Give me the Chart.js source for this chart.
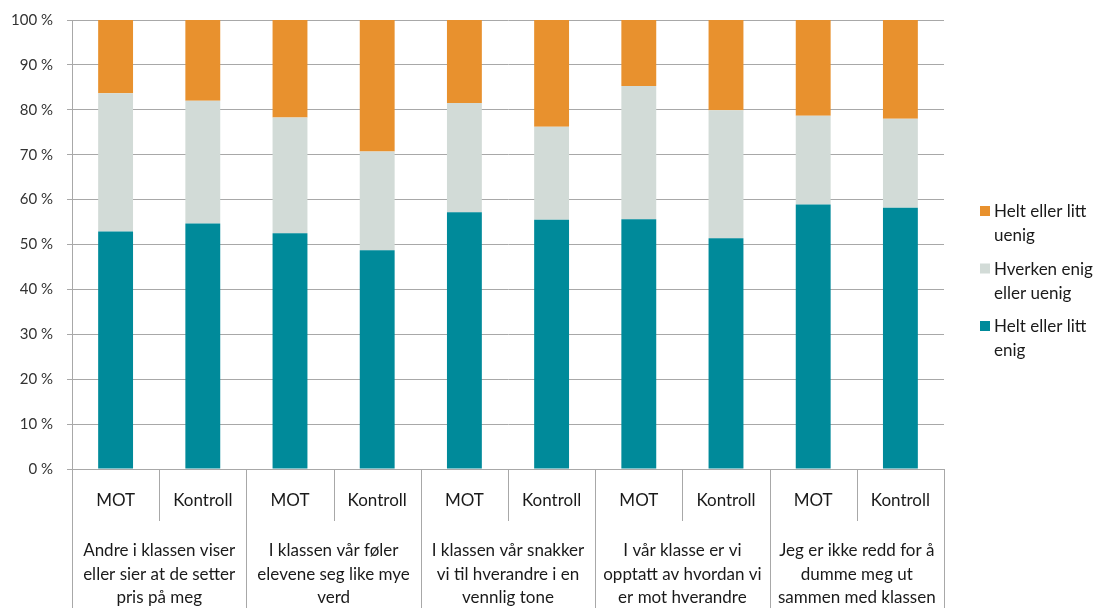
<!DOCTYPE html>
<html>
<head>
<meta charset="utf-8">
<script src="https://cdn.jsdelivr.net/npm/chart.js@4"></script>
<style>
  html, body { margin: 0; padding: 0; background: #fff; }
  #wrap { width: 1097px; height: 608px; }
</style>
</head>
<body>
<div id="wrap"><canvas id="chart" width="1097" height="608"></canvas></div>
<script>
// sub categories (one bar each)
const subLabels = ['MOT', 'Kontroll', 'MOT', 'Kontroll', 'MOT', 'Kontroll', 'MOT', 'Kontroll', 'MOT', 'Kontroll']
// statement groups, two bars per group
const groupLabels = [
    ['Andre i klassen viser', 'eller sier at de setter', 'pris på meg'],
    ['I klassen vår føler', 'elevene seg like mye', 'verd'],
    ['I klassen vår snakker', 'vi til hverandre i en', 'vennlig tone'],
    ['I vår klasse er vi', 'opptatt av hvordan vi', 'er mot hverandre'],
    ['Jeg er ikke redd for å', 'dumme meg ut', 'sammen med klassen']
]
const yTicks = [0, 10, 20, 30, 40, 50, 60, 70, 80, 90, 100]

// percentages
const enig    = [52.9, 54.7, 52.5, 48.7, 57.2, 55.5, 55.6, 51.4, 58.9, 58.2]
const noytral = [30.8, 27.3, 25.8, 22.0, 24.3, 20.7, 29.7, 28.5, 19.8, 19.8]
const uenig   = [16.3, 18.0, 21.7, 29.3, 18.5, 23.8, 14.7, 20.1, 21.3, 22.0]

const seriesNames = ['Helt eller litt enig', 'Hverken enig eller uenig', 'Helt eller litt uenig']
const legendLines = [['Helt eller litt', 'enig'], ['Hverken enig', 'eller uenig'], ['Helt eller litt', 'uenig']]
const colors = ['#008a9a', '#d2dbd7', '#e8912e']

const FONT = 'Lato, "Open Sans", sans-serif'
const lineCol = '#a8a8a8'

const labelPlugin = {
    id: 'labels',
    afterDraw(chart) {
        const ctx = chart.ctx
        const x = chart.scales.x
        const area = chart.chartArea
        const bottom = chart.height
        const step = x.getPixelForValue(1) - x.getPixelForValue(0)

        ctx.save()
        ctx.strokeStyle = lineCol
        ctx.lineWidth = 1
        for (let i = 0; i <= subLabels.length; i++) {
            const bx = Math.round(x.getPixelForValue(i) - step / 2) + 0.5
            ctx.beginPath()
            ctx.moveTo(bx, area.bottom)
            ctx.lineTo(bx, i % 2 === 0 ? bottom : area.bottom + 52)
            ctx.stroke()
        }

        ctx.fillStyle = '#1a1a1a'
        ctx.font = '17px ' + FONT
        ctx.textAlign = 'center'
        ctx.textBaseline = 'middle'
        subLabels.forEach((s, i) => {
            ctx.fillText(s, x.getPixelForValue(i), area.bottom + 32)
        })
        groupLabels.forEach((lines, g) => {
            const cx = (x.getPixelForValue(g * 2) + x.getPixelForValue(g * 2 + 1)) / 2
            lines.forEach((l, j) => ctx.fillText(l, cx, area.bottom + 82 + j * 23.5))
        })

        // legend, top item is the top of the stack
        ctx.textAlign = 'left'
        const ds = chart.data.datasets
        for (let k = ds.length - 1, row = 0; k >= 0; k--, row++) {
            const ly = 212 + row * 57.5
            ctx.fillStyle = ds[k].backgroundColor
            ctx.fillRect(980, ly - 6, 10, 10)
            ctx.fillStyle = '#1a1a1a'
            legendLines[k].forEach((l, j) => ctx.fillText(l, 994, ly + j * 24))
        }
        ctx.restore()
    }
}

const chart = new Chart(document.querySelector('#chart'), {
    type: 'bar',
    data: {
        labels: subLabels,
        datasets: [
            { label: seriesNames[0], data: enig, backgroundColor: colors[0] },
            { label: seriesNames[1], data: noytral, backgroundColor: colors[1] },
            { label: seriesNames[2], data: uenig, backgroundColor: colors[2] }
        ].map(d => Object.assign(d, { barPercentage: 0.40, categoryPercentage: 1 }))
    },
    options: {
        responsive: false,
        animation: false,
        layout: { padding: { top: 20, right: 153, left: 0, bottom: 0 } },
        plugins: { legend: { display: false }, tooltip: { enabled: false } },
        scales: {
            x: {
                stacked: true,
                ticks: { display: false },
                grid: { display: false },
                border: { color: lineCol },
                afterFit: s => { s.height = 139 }
            },
            y: {
                stacked: true,
                min: 0,
                max: 100,
                afterBuildTicks: s => { s.ticks = yTicks.map(v => ({ value: v })) },
                ticks: {
                    callback: v => v + ' %',
                    color: '#333',
                    font: { family: FONT, size: 15 },
                    padding: 14
                },
                grid: { color: lineCol, tickLength: 5 },
                border: { color: lineCol },
                afterFit: s => { s.width = 72; s.paddingTop = 0; s.paddingBottom = 0 }
            }
        }
    },
    plugins: [labelPlugin]
})
</script>
</body>
</html>
